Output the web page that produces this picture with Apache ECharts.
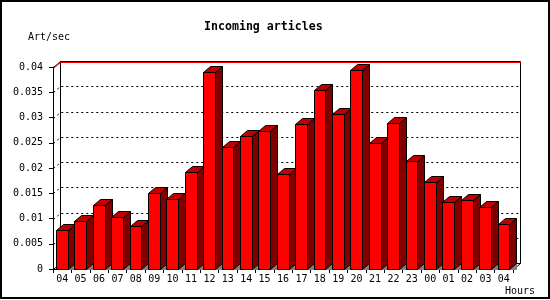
<!DOCTYPE html>
<html>
<head>
<meta charset="utf-8">
<script src="https://cdn.jsdelivr.net/npm/echarts@6/dist/echarts.min.js"></script>
<style>
html,body{margin:0;padding:0;background:#fff;}
#chart{width:550px;height:300px;}
</style>
</head>
<body>
<div id="chart"></div>
<script>
// ---- data ----
const hours = ['04','05','06','07','08','09','10','11','12','13','14','15','16','17','18','19','20','21','22','23','00','01','02','03','04'];
const artPerSec = [0.0077,0.0096,0.0126,0.0102,0.0085,0.0150,0.0138,0.0193,0.0390,0.0241,0.0263,0.0273,0.0188,0.0287,0.0354,0.0306,0.0395,0.0249,0.0289,0.0213,0.0172,0.0132,0.0136,0.0122,0.0089];
const yTickValues = [0,0.005,0.01,0.015,0.02,0.025,0.03,0.035,0.04];
const yTickLabels = ['0','0.005','0.01','0.015','0.02','0.025','0.03','0.035','0.04'];
const titleText = 'Incoming articles';
const yName = 'Art/sec';
const xName = 'Hours';

// ---- style ----
const DX = 7, DY = 6;
const MONO = '"DejaVu Sans Mono", "Liberation Mono", monospace';
const P = v => Math.round(v) + 0.5;

const chart = echarts.init(document.getElementById('chart'), null, {renderer: 'canvas'});

function wallItem(params, api) {
  const n = hours.length;
  const bw = api.size([1, 0])[0];
  const x0 = P(api.coord([0, 0])[0] - bw / 2);
  const x1 = P(api.coord([n - 1, 0])[0] + bw / 2);
  const yb = P(api.coord([0, 0])[1]);
  const yMax = yTickValues[yTickValues.length - 1];
  const yt = P(api.coord([0, yMax])[1]);
  const ch = [];
  const blk = {stroke: '#000', lineWidth: 1, fill: null};
  ch.push({type: 'polyline', shape: {points: [[x0 + DX, yb - DY], [x0 + DX, yt - DY], [x1 + DX, yt - DY], [x1 + DX, yb - DY]]}, style: blk});
  ch.push({type: 'line', shape: {x1: x0, y1: yt, x2: x0 + DX, y2: yt - DY}, style: blk});
  ch.push({type: 'line', shape: {x1: x0, y1: yb, x2: x0 + DX, y2: yb - DY}, style: blk});
  ch.push({type: 'line', shape: {x1: x1, y1: yb, x2: x1 + DX, y2: yb - DY}, style: blk});
  ch.push({type: 'line', shape: {x1: x0 + DX, y1: yb - DY, x2: x1 + DX, y2: yb - DY}, style: blk});
  for (let i = 1; i < yTickValues.length - 1; i++) {
    const y = P(api.coord([0, yTickValues[i]])[1]);
    ch.push({type: 'polyline', shape: {points: [[x0, y], [x0 + DX, y - DY], [x1 + DX, y - DY]]},
      style: {stroke: '#000', lineWidth: 1, fill: null, lineDash: [2, 3]}});
  }
  ch.push({type: 'polyline', shape: {points: [[x0, yt + 1], [x0 + DX, yt - DY + 1], [x1 + DX, yt - DY + 1]]},
    style: {stroke: '#ff0000', lineWidth: 1, fill: null}});
  return {type: 'group', children: ch};
}

function barItem(params, api) {
  const idx = api.value(0);
  const val = api.value(1);
  const c = api.coord([idx, val]);
  const base = api.coord([idx, 0]);
  const bw = api.size([1, 0])[0];
  const fx0 = P(c[0] - bw * 0.337);
  const fx1 = P(c[0] - bw * 0.337 + bw * 0.636);
  const yt = P(c[1]);
  const yb = P(base[1]);
  const edge = {stroke: '#000', lineWidth: 1};
  return {type: 'group', children: [
    {type: 'polygon', shape: {points: [[fx1, yb], [fx1 + DX, yb - DY], [fx1 + DX, yb]]},
      style: {fill: '#808080', stroke: '#808080', lineWidth: 1}},
    {type: 'polygon', shape: {points: [[fx1, yt], [fx1 + DX, yt - DY], [fx1 + DX, yb - DY], [fx1, yb]]},
      style: Object.assign({fill: '#800000'}, edge)},
    {type: 'polygon', shape: {points: [[fx0, yt], [fx0 + DX, yt - DY], [fx1 + DX, yt - DY], [fx1, yt]]},
      style: Object.assign({fill: '#c00000'}, edge)},
    {type: 'polygon', shape: {points: [[fx0, yt], [fx1, yt], [fx1, yb], [fx0, yb]]},
      style: Object.assign({fill: '#ff0000'}, edge)}
  ]};
}

const option = {
  backgroundColor: '#fff',
  animation: false,
  title: {
    text: titleText, left: 204, top: 21, padding: 0,
    textStyle: {fontFamily: MONO, fontWeight: 'bold', fontSize: 11.6, color: '#000'}
  },
  grid: {left: 53, top: 67, width: 460, height: 202, containLabel: false},
  xAxis: {
    type: 'category', data: hours, boundaryGap: true,
    axisLine: {show: true, lineStyle: {color: '#000', width: 1}},
    axisTick: {show: true, interval: 0, length: 4, lineStyle: {color: '#000'}},
    axisLabel: {interval: 0, margin: 5, fontFamily: MONO, fontSize: 10, color: '#000'},
    splitLine: {show: false}
  },
  yAxis: {
    type: 'value', min: 0, max: 0.04, interval: 0.005,
    axisLine: {show: true, lineStyle: {color: '#000', width: 1}},
    axisTick: {show: true, length: 4, lineStyle: {color: '#000'}},
    axisLabel: {margin: 10, fontFamily: MONO, fontSize: 10, color: '#000',
      formatter: function (v) { const i = yTickValues.findIndex(t => Math.abs(t - v) < 1e-9); return i >= 0 ? yTickLabels[i] : ''; }},
    splitLine: {show: false}
  },
  graphic: [
    {type: 'rect', shape: {x: 1, y: 1, width: 548, height: 297}, style: {fill: null, stroke: '#000', lineWidth: 2}, silent: true},
    {type: 'text', left: 28, top: 32, style: {text: yName, font: '10px ' + MONO, fill: '#000'}},
    {type: 'text', left: 505, top: 286, style: {text: xName, font: '10px ' + MONO, fill: '#000'}}
  ],
  series: [
    {type: 'custom', name: 'wall', clip: false, z: 1, data: [[0, 0]], encode: {x: 0, y: 1}, renderItem: wallItem, silent: true},
    {type: 'custom', name: 'Incoming articles', clip: false, z: 2,
      data: artPerSec.map((v, i) => [i, v]), encode: {x: 0, y: 1}, renderItem: barItem}
  ]
};
chart.setOption(option);
</script>
</body>
</html>
